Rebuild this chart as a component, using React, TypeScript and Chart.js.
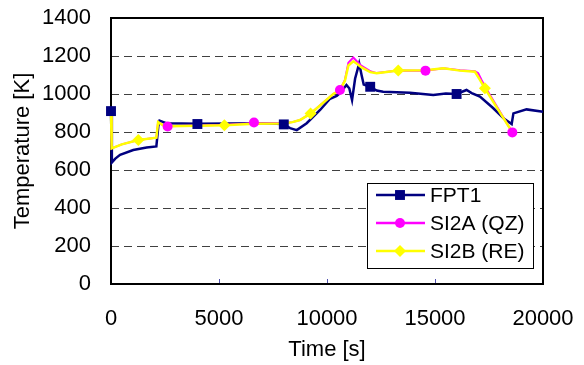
import React, { useEffect, useRef } from "react";
import { Chart, registerables } from "chart.js";

Chart.register(...registerables);

// ---- data ----
const fptTime = [0, 40, 200, 420, 1030, 1650, 2100, 2190, 2250, 2550, 4000, 5500, 7000, 7960, 8290, 8600, 9060, 9680, 10140, 10450, 10600, 10900, 11030, 11160, 11300, 11490, 11600, 11700, 12000, 12300, 12600, 13840, 14920, 15500, 16000, 16460, 16700, 17080, 17700, 18200, 18550, 18630, 19240, 20000];
const fptTemp = [910, 640, 660, 680, 705, 718, 724, 830, 860, 846, 843, 845, 846, 842, 820, 810, 846, 916, 975, 990, 1004, 1047, 1030, 968, 1080, 1161, 1100, 1050, 1038, 1018, 1012, 1007, 995, 1003, 1000, 1021, 1005, 986, 925, 870, 842, 898, 919, 907];
const fptMarkTime = [0, 4000, 8000, 12000, 16000];
const fptMarkTemp = [910, 842, 840, 1038, 1000];

const qzTime = [0, 30, 500, 1265, 2100, 2180, 2400, 2620, 5250, 6620, 7980, 8400, 8750, 9250, 10290, 10600, 10830, 10990, 11220, 11400, 11600, 12000, 12300, 13300, 14560, 15390, 16160, 16850, 17000, 17150, 17310, 18580];
const qzTemp = [910, 714, 735, 758, 770, 852, 836, 830, 838, 846, 846, 852, 863, 898, 1000, 1021, 1074, 1165, 1192, 1170, 1148, 1120, 1110, 1124, 1123, 1136, 1125, 1120, 1110, 1075, 1040, 798];
const qzMarkTime = [2620, 6620, 10600, 14560, 18580];
const qzMarkTemp = [829, 850, 1021, 1123, 798];

const reTime = [0, 30, 500, 1265, 2100, 2180, 2400, 2620, 5250, 6620, 7980, 8400, 8750, 9250, 10290, 10600, 10830, 10990, 11220, 11400, 11600, 12000, 12300, 13300, 14560, 15390, 16160, 16850, 17080, 17310, 18580];
const reTemp = [910, 714, 735, 758, 770, 852, 836, 830, 836, 843, 845, 852, 863, 898, 1000, 1021, 1070, 1150, 1172, 1158, 1140, 1115, 1109, 1124, 1125, 1135, 1123, 1117, 1074, 1030, 798];
const reMarkTime = [1265, 5250, 9240, 13300, 17310];
const reMarkTemp = [758, 836, 898, 1124, 1030];

const seriesNames = ["FPT1", "SI2A (QZ)", "SI2B (RE)"];
const yTicks = [0, 200, 400, 600, 800, 1000, 1200, 1400];
const xTicks = [0, 5000, 10000, 15000, 20000];

const NAVY = "#000080";
const MAGENTA = "#ff00ff";
const YELLOW = "#ffff00";
const FONT = "'Liberation Sans', Arial, sans-serif";

const zip = (xs: number[], ys: number[]) => xs.map((x, i) => ({ x, y: ys[i] }));

function drawMarker(ctx: CanvasRenderingContext2D, style: string, x: number, y: number, r: number, color: string) {
  ctx.fillStyle = color;
  ctx.beginPath();
  if (style === "rect") {
    const s = Math.SQRT1_2 * r;
    ctx.rect(x - s, y - s, 2 * s, 2 * s);
  } else if (style === "circle") {
    ctx.arc(x, y, r, 0, Math.PI * 2);
  } else {
    ctx.moveTo(x, y - r);
    ctx.lineTo(x + r, y);
    ctx.lineTo(x, y + r);
    ctx.lineTo(x - r, y);
    ctx.closePath();
  }
  ctx.fill();
}

export default function App() {
  const ref = useRef<HTMLCanvasElement | null>(null);

  useEffect(() => {
    const canvas = ref.current;
    if (!canvas) return;

    const framePlugin = {
      id: "frame",
      beforeDatasetsDraw(chart: any) {
        const { ctx, chartArea: a, scales } = chart;
        ctx.save();
        ctx.strokeStyle = "#5050b0";
        ctx.lineWidth = 1;
        xTicks.slice(1, -1).forEach((v) => {
          const px = Math.round(scales.x.getPixelForValue(v)) + 0.5;
          ctx.beginPath();
          ctx.moveTo(px, a.bottom);
          ctx.lineTo(px, a.bottom - 5);
          ctx.stroke();
        });
        ctx.strokeStyle = "#000000";
        ctx.lineWidth = 2;
        ctx.strokeRect(a.left, a.top, a.right - a.left, a.bottom - a.top);
        ctx.restore();
      },
    };

    const legendPlugin = {
      id: "customLegend",
      afterDraw(chart: any) {
        const { ctx } = chart;
        const bx = 367, by = 183, bw = 166, bh = 85;
        ctx.save();
        ctx.fillStyle = "#ffffff";
        ctx.fillRect(bx, by, bw, bh);
        ctx.strokeStyle = "#000000";
        ctx.lineWidth = 1;
        ctx.strokeRect(bx + 0.5, by + 0.5, bw, bh);
        const colors = [NAVY, MAGENTA, YELLOW];
        const styles = ["rect", "circle", "rectRot"];
        const radii = [7, 5, 6];
        const rows = [195, 223, 251];
        ctx.font = `21px ${FONT}`;
        ctx.textBaseline = "middle";
        ctx.textAlign = "left";
        seriesNames.forEach((name, i) => {
          const y = rows[i];
          ctx.strokeStyle = colors[i];
          ctx.lineWidth = 2.5;
          ctx.beginPath();
          ctx.moveTo(376, y);
          ctx.lineTo(425, y);
          ctx.stroke();
          drawMarker(ctx, styles[i], 400, y, radii[i], colors[i]);
          ctx.fillStyle = "#000000";
          ctx.fillText(name, 430, y + 1);
        });
        ctx.restore();
      },
    };

    const lineDs = (label: string, data: any[], color: string, width: number, order: number) => ({
      label,
      data,
      borderColor: color,
      backgroundColor: color,
      borderWidth: width,
      pointRadius: 0,
      pointHoverRadius: 0,
      tension: 0,
      fill: false,
      clip: false as any,
      order,
    });
    const markDs = (label: string, data: any[], color: string, style: string, r: number, order: number) => ({
      label,
      data,
      showLine: false,
      borderColor: color,
      backgroundColor: color,
      borderWidth: 0,
      pointStyle: style,
      pointRadius: r,
      pointHoverRadius: r,
      clip: false as any,
      order,
    });

    const chart = new Chart(canvas, {
      type: "line",
      data: {
        datasets: [
          lineDs(seriesNames[0], zip(fptTime, fptTemp), NAVY, 2.5, 5),
          lineDs(seriesNames[1], zip(qzTime, qzTemp), MAGENTA, 2, 4),
          lineDs(seriesNames[2], zip(reTime, reTemp), YELLOW, 2.5, 3),
          markDs(seriesNames[0] + " m", zip(fptMarkTime, fptMarkTemp), NAVY, "rect", 7, 2),
          markDs(seriesNames[1] + " m", zip(qzMarkTime, qzMarkTemp), MAGENTA, "circle", 5, 1),
          markDs(seriesNames[2] + " m", zip(reMarkTime, reMarkTemp), YELLOW, "rectRot", 6, 0),
        ] as any,
      },
      options: {
        animation: false,
        responsive: false,
        maintainAspectRatio: false,
        events: [],
        layout: { padding: { left: 0, right: 41, top: 18, bottom: 0 } },
        plugins: {
          legend: { display: false },
          tooltip: { enabled: false },
          title: { display: false },
        },
        scales: {
          x: {
            type: "linear",
            min: 0,
            max: 20000,
            afterBuildTicks: (s: any) => {
              s.ticks = xTicks.map((v) => ({ value: v }));
            },
            afterFit: (s: any) => {
              s.height = 81;
            },
            grid: {
              display: true,
              drawOnChartArea: false,
              drawTicks: true,
              tickLength: 22,
              color: "rgba(0,0,0,0)",
              tickColor: "rgba(0,0,0,0)",
            },
            border: { display: false },
            ticks: {
              color: "#000000",
              font: { family: FONT, size: 22 },
              padding: 0,
              maxRotation: 0,
              autoSkip: false,
              callback: (v: any) => String(v),
            },
            title: {
              display: true,
              text: "Time [s]",
              color: "#000000",
              font: { family: FONT, size: 22 },
              padding: { top: 0, bottom: 2 },
            },
          },
          y: {
            type: "linear",
            min: 0,
            max: 1400,
            afterBuildTicks: (s: any) => {
              s.ticks = yTicks.map((v) => ({ value: v }));
            },
            afterFit: (s: any) => {
              s.width = 111;
            },
            grid: {
              drawTicks: true,
              tickLength: 20,
              tickColor: "rgba(0,0,0,0)",
              color: (c: any) =>
                c.tick && (c.tick.value === 0 || c.tick.value === 1400) ? "rgba(0,0,0,0)" : "#404040",
              lineWidth: 1,
            },
            border: { display: false, dash: [8, 5] },
            ticks: {
              color: "#000000",
              font: { family: FONT, size: 22 },
              padding: 0,
              callback: (v: any) => String(v),
            },
            title: {
              display: true,
              text: "Temperature [K]",
              color: "#000000",
              font: { family: FONT, size: 22 },
              padding: { top: 10, bottom: 0 },
            },
          },
        },
      },
      plugins: [framePlugin, legendPlugin],
    });

    return () => chart.destroy();
  }, []);

  return (
    <div style={{ position: "fixed", left: 0, top: 0, width: 584, height: 365, background: "#ffffff" }}>
      <canvas ref={ref} width={584} height={365} style={{ width: 584, height: 365, display: "block" }} />
    </div>
  );
}
